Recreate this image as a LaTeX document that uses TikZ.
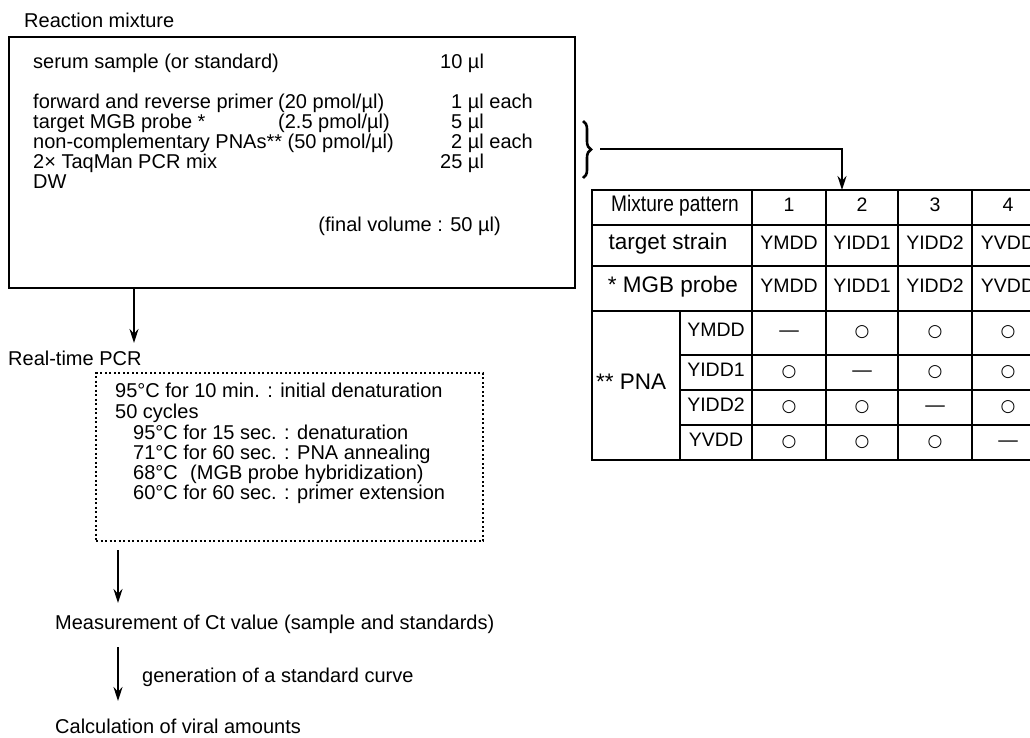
\documentclass[tikz,border=0pt]{standalone}
\usepackage{fontspec}
\setmainfont{Liberation Sans}
\newfontfamily\symfont{DejaVu Sans}
\newfontfamily\narrowfont[FakeStretch=0.85]{Liberation Sans}
\usetikzlibrary{arrows.meta,decorations.pathreplacing}
\begin{document}
\begin{tikzpicture}[x=1pt,y=-1pt,
  txt/.style={inner sep=0pt, anchor=base west, font=\fontsize{20}{22}\selectfont},
  cell/.style={inner sep=0pt, anchor=center, text height=0.72em, text depth=0pt, font=\fontsize{19.5}{22}\selectfont},
  bigcell/.style={cell, font=\fontsize{22.5}{24}\selectfont},
  arr/.style={line width=1.8pt, -{Stealth[length=14pt,width=9pt]}},
  grid/.style={line width=1.3pt},
  thick grid/.style={line width=2pt}
]
\useasboundingbox (0,0) rectangle (1030,737);
\clip (0,0) rectangle (1030,737);
\fill[white] (0,0) rectangle (1030,737);

% Reaction mixture
\node[txt] (rmlab) at (24,27) {Reaction mixture};
\node[draw, line width=2.2pt, minimum width=566pt, minimum height=251pt, anchor=north west, inner sep=0pt] (mixbox) at (8,36) {};

\node[txt] (l1) at (33,68) {serum sample (or standard)};
\node[txt] (v1) at (440,68) {10 µl};
\node[txt] (l2) at (33,108) {forward and reverse primer};
\node[txt] (c2) at (278,108) {(20 pmol/µl)};
\node[txt] (v2) at (451,108) {1 µl each};
\node[txt] (l3) at (33,128) {target MGB probe *};
\node[txt] (c3) at (278,128) {(2.5 pmol/µl)};
\node[txt] (v3) at (451,128) {5 µl};
\node[txt] (l4) at (33,148) {non-complementary PNAs** (50 pmol/µl)};
\node[txt] (v4) at (451,148) {2 µl each};
\node[txt] (l5) at (33,168) {2× TaqMan PCR mix};
\node[txt] (v5) at (440,168) {25 µl};
\node[txt] (l6) at (33,188) {DW};
\node[txt, anchor=base east] (fv) at (501,231) {(final volume : 50 µl)};

% brace and arrow to table
\draw[line width=2.6pt, decorate, decoration={brace, amplitude=8pt}] (583,121) -- (583,178);
\coordinate (bt) at (600,149);
\coordinate (tt) at (842,190);
\draw[arr] (bt) -| (tt);

% Table
\def\xa{592}\def\xb{680}\def\xc{752}\def\xd{826}\def\xe{898}\def\xf{972}\def\xg{1045}
\def\ya{190}\def\yb{225}\def\yc{266}\def\yd{311}\def\ye{355}\def\yf{390}\def\yg{425}\def\yh{460}
\draw[thick grid] (\xa,\ya) rectangle (\xg,\yh);
\draw[thick grid] (\xa,\yb) -- (\xg,\yb);
\draw[thick grid] (\xa,\yc) -- (\xg,\yc);
\draw[grid] (\xa,\yd) -- (\xg,\yd);
\draw[grid] (\xb,\ye) -- (\xg,\ye);
\draw[grid] (\xb,\yf) -- (\xg,\yf);
\draw[grid] (\xb,\yg) -- (\xg,\yg);
\draw[thick grid] (\xc,\ya) -- (\xc,\yh);
\draw[grid] (\xd,\ya) -- (\xd,\yh);
\draw[grid] (\xe,\ya) -- (\xe,\yh);
\draw[grid] (\xf,\ya) -- (\xf,\yh);
\draw[grid] (\xb,\yd) -- (\xb,\yh);

\node[bigcell, font=\narrowfont\fontsize{22.5}{24}\selectfont] (mp) at (675,207.5) {Mixture pattern};
\node[bigcell] (ts) at (668,245.5) {target strain};
\node[bigcell] (mgb) at (673,288.5) {* MGB probe};
\node[bigcell, anchor=west] (pna) at (596,385.5) {** PNA};

\node[cell] at (789,207.5) {1};
\node[cell] at (862,207.5) {2};
\node[cell] at (935,207.5) {3};
\node[cell] at (1008,207.5) {4};

\node[cell] at (789,245.5) {YMDD};
\node[cell] at (862,245.5) {YIDD1};
\node[cell] at (935,245.5) {YIDD2};
\node[cell] at (1008,245.5) {YVDD};
\node[cell] at (789,288.5) {YMDD};
\node[cell] at (862,288.5) {YIDD1};
\node[cell] at (935,288.5) {YIDD2};
\node[cell] at (1008,288.5) {YVDD};

\node[cell] at (716,333) {YMDD};
\node[cell] at (716,372.5) {YIDD1};
\node[cell] at (716,407.5) {YIDD2};
\node[cell] at (716,442.5) {YVDD};

\tikzset{sym/.style={cell, font=\symfont\fontsize{17}{20}\selectfont}}
% row YMDD
\node[cell] at (789,333) {—};
\node[sym] at (862,333) {○};
\node[sym] at (935,333) {○};
\node[sym] at (1008,333) {○};
% row YIDD1
\node[sym] at (789,372.5) {○};
\node[cell] at (862,372.5) {—};
\node[sym] at (935,372.5) {○};
\node[sym] at (1008,372.5) {○};
% row YIDD2
\node[sym] at (789,407.5) {○};
\node[sym] at (862,407.5) {○};
\node[cell] at (935,407.5) {—};
\node[sym] at (1008,407.5) {○};
% row YVDD
\node[sym] at (789,442.5) {○};
\node[sym] at (862,442.5) {○};
\node[sym] at (935,442.5) {○};
\node[cell] at (1008,442.5) {—};

% Real-time PCR
\node[txt] (rtlab) at (8,365) {Real-time PCR};
\coordinate (a1) at (134,343);
\draw[arr] (a1 |- mixbox.south) -- (a1);

\node[draw, line width=2.4pt, dash pattern=on 2.2pt off 2.3pt, minimum width=387pt, minimum height=168pt, anchor=north west, inner sep=0pt] (pcrbox) at (95,372) {};
\node[txt] (p1) at (115,397) {95°C for 10 min. : initial denaturation};
\node[txt] (p2) at (115,418) {50 cycles};
\node[txt] (p3) at (133,439) {95°C for 15 sec. : denaturation};
\node[txt] (p4) at (133,459) {71°C for 60 sec. : PNA annealing};
\node[txt] (p5) at (133,479) {68°C};
\node[txt] (p5b) at (190,479) {(MGB probe hybridization)};
\node[txt] (p6) at (133,499) {60°C for 60 sec. : primer extension};

% Measurement
\node[txt] (meas) at (55,629) {Measurement of Ct value (sample and standards)};
\coordinate (a2) at (118,603);
\coordinate (a2t) at (118,550);
\draw[arr] (a2t) -- (a2);
\coordinate (a3t) at (118,647);
\coordinate (a3) at (118,701);
\draw[arr] (a3t) -- (a3);
\node[txt] (gen) at (142,682) {generation of a standard curve};
\node[txt] (calc) at (55,733) {Calculation of viral amounts};
\end{tikzpicture}
\end{document}
